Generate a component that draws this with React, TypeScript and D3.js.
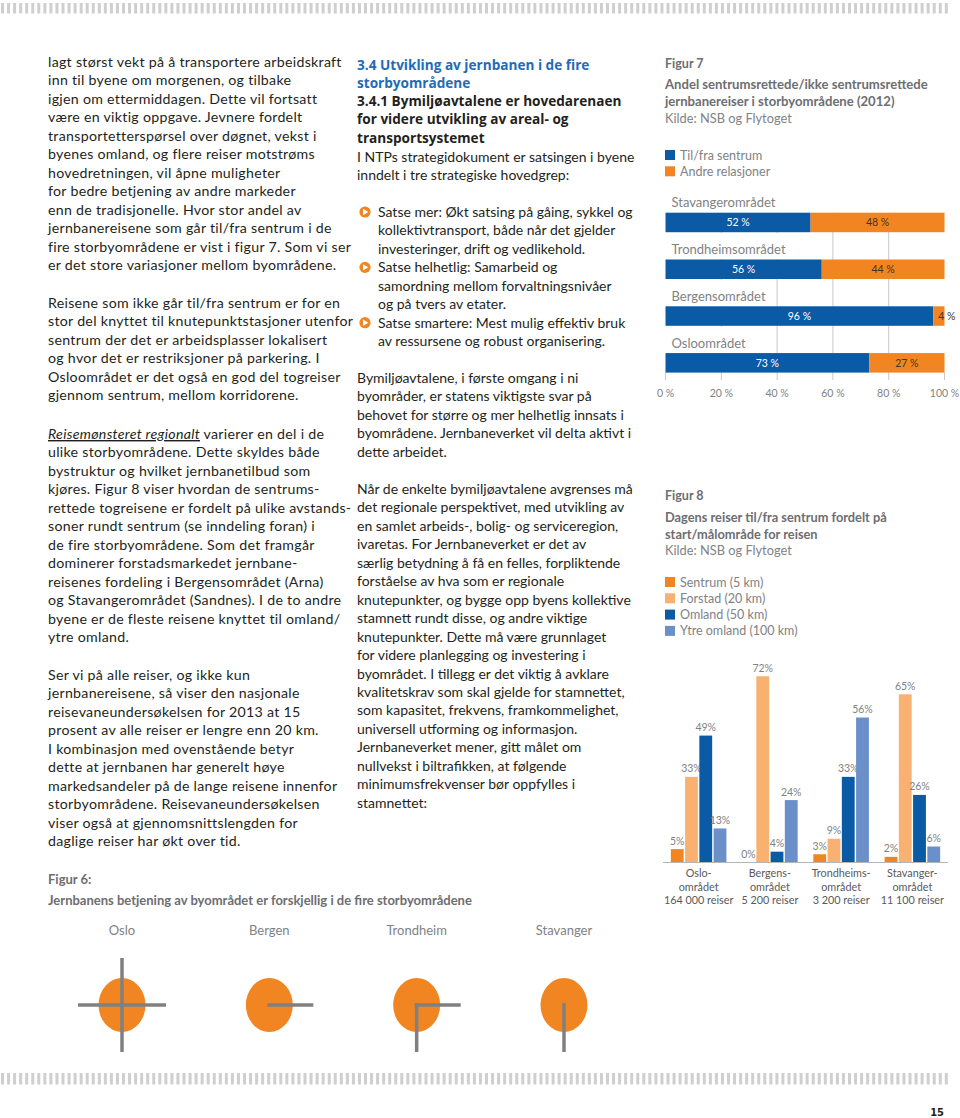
import React from "react";
import * as d3 from "d3";

// ---------- DATA ----------
const para1 = [
  "lagt størst vekt på å transportere arbeidskraft",
  "inn til byene om morgenen, og tilbake",
  "igjen om ettermiddagen. Dette vil fortsatt",
  "være en viktig oppgave. Jevnere fordelt",
  "transportetterspørsel over døgnet, vekst i",
  "byenes omland, og flere reiser motstrøms",
  "hovedretningen, vil åpne muligheter",
  "for bedre betjening av andre markeder",
  "enn de tradisjonelle. Hvor stor andel av",
  "jernbanereisene som går til/fra sentrum i de",
  "fire storbyområdene er vist i figur 7. Som vi ser",
  "er det store variasjoner mellom byområdene.",
];
const para2 = [
  "Reisene som ikke går til/fra sentrum er for en",
  "stor del knyttet til knutepunktstasjoner utenfor",
  "sentrum der det er arbeidsplasser lokalisert",
  "og hvor det er restriksjoner på parkering. I",
  "Osloområdet er det også en god del togreiser",
  "gjennom sentrum, mellom korridorene.",
];
const para3Lead = "Reisemønsteret regionalt";
const para3 = [
  " varierer en del i de",
  "ulike storbyområdene. Dette skyldes både",
  "bystruktur og hvilket jernbanetilbud som",
  "kjøres. Figur 8 viser hvordan de sentrums-",
  "rettede togreisene er fordelt på ulike avstands-",
  "soner rundt sentrum (se inndeling foran) i",
  "de fire storbyområdene. Som det framgår",
  "dominerer forstadsmarkedet jernbane-",
  "reisenes fordeling i Bergensområdet (Arna)",
  "og Stavangerområdet (Sandnes). I de to andre",
  "byene er de fleste reisene knyttet til omland/",
  "ytre omland.",
];
const para4 = [
  "Ser vi på alle reiser, og ikke kun",
  "jernbanereisene, så viser den nasjonale",
  "reisevaneundersøkelsen for 2013 at 15",
  "prosent av alle reiser er lengre enn 20 km.",
  "I kombinasjon med ovenstående betyr",
  "dette at jernbanen har generelt høye",
  "markedsandeler på de lange reisene innenfor",
  "storbyområdene. Reisevaneundersøkelsen",
  "viser også at gjennomsnittslengden for",
  "daglige reiser har økt over tid.",
];

const headBlue = ["3.4 Utvikling av jernbanen i de fire", "storbyområdene"];
const headDark = [
  "3.4.1 Bymiljøavtalene er hovedarenaen",
  "for videre utvikling av areal- og",
  "transportsystemet",
];
const introLines = [
  "I NTPs strategidokument er satsingen i byene",
  "inndelt i tre strategiske hovedgrep:",
];
const bulletLines = [
  "Satse mer: Økt satsing på gåing, sykkel og",
  "kollektivtransport, både når det gjelder",
  "investeringer, drift og vedlikehold.",
  "Satse helhetlig: Samarbeid og",
  "samordning mellom forvaltningsnivåer",
  "og på tvers av etater.",
  "Satse smartere: Mest mulig effektiv bruk",
  "av ressursene og robust organisering.",
];
const bulletStarts = [0, 3, 6];
const midPara1 = [
  "Bymiljøavtalene, i første omgang i ni",
  "byområder, er statens viktigste svar på",
  "behovet for større og mer helhetlig innsats i",
  "byområdene. Jernbaneverket vil delta aktivt i",
  "dette arbeidet.",
];
const midPara2 = [
  "Når de enkelte bymiljøavtalene avgrenses må",
  "det regionale perspektivet, med utvikling av",
  "en samlet arbeids-, bolig- og serviceregion,",
  "ivaretas. For Jernbaneverket er det av",
  "særlig betydning å få en felles, forpliktende",
  "forståelse av hva som er regionale",
  "knutepunkter, og bygge opp byens kollektive",
  "stamnett rundt disse, og andre viktige",
  "knutepunkter. Dette må være grunnlaget",
  "for videre planlegging og investering i",
  "byområdet. I tillegg er det viktig å avklare",
  "kvalitetskrav som skal gjelde for stamnettet,",
  "som kapasitet, frekvens, framkommelighet,",
  "universell utforming og informasjon.",
  "Jernbaneverket mener, gitt målet om",
  "nullvekst i biltrafikken, at følgende",
  "minimumsfrekvenser bør oppfylles i",
  "stamnettet:",
];

// Figure 7
const fig7Title = ["Andel sentrumsrettede/ikke sentrumsrettede", "jernbanereiser i storbyområdene (2012)"];
const fig7Legend = ["Til/fra sentrum", "Andre relasjoner"];
const fig7Areas = ["Stavangerområdet", "Trondheimsområdet", "Bergensområdet", "Osloområdet"];
const fig7Centre = [52, 56, 96, 73];
const fig7Other = [48, 44, 4, 27];
const fig7Ticks = [0, 20, 40, 60, 80, 100];

// Figure 8
const fig8Title = ["Dagens reiser til/fra sentrum fordelt på", "start/målområde for reisen"];
const fig8Series = ["Sentrum (5 km)", "Forstad (20 km)", "Omland (50 km)", "Ytre omland (100 km)"];
const fig8Groups = ["Oslo", "Bergen", "Trondheim", "Stavanger"];
const fig8GroupLabels = [
  ["Oslo-", "området", "164 000 reiser"],
  ["Bergens-", "området", "5 200 reiser"],
  ["Trondheims-", "området", "3 200 reiser"],
  ["Stavanger-", "området", "11 100 reiser"],
];
const fig8Sentrum = [5, 0, 3, 2];
const fig8Forstad = [33, 72, 9, 65];
const fig8Omland = [49, 4, 33, 26];
const fig8Ytre = [13, 24, 56, 6];

// Figure 6
const fig6Cities = ["Oslo", "Bergen", "Trondheim", "Stavanger"];
const fig6Arms = [["n", "e", "s", "w"], ["e"], ["e", "s"], ["s"]];

// ---------- STYLE ----------
const FONT = "Lato, 'Open Sans', sans-serif";
const HFONT = "'Open Sans', Lato, sans-serif";
const TXT = "#231f20";
const GRAY = "#6d6e71";
const LGRAY = "#808285";
const BLUE = "#0b5aa6";
const ORANGE = "#f18522";
const LORANGE = "#f8b170";
const LBLUE = "#6b8fc9";
const HBLUE = "#1f6bb6";
const LH = 18.45;

const Lines = ({ lines, x, y0, size = 14, fill = TXT, weight = 400, family = FONT, step = LH, ls = 0 }: any) => (
  <g>
    {lines.map((l: string, i: number) => (
      <text
        key={i}
        x={x}
        y={y0 + i * step}
        fontSize={size}
        fill={fill}
        fontWeight={weight}
        fontFamily={family}
        letterSpacing={ls}
      >
        {l}
      </text>
    ))}
  </g>
);

const Stripe = ({ y, h }: { y: number; h: number }) => {
  const xs = d3.range(1, 950, 6.05);
  return (
    <g>
      {xs.map((x, i) => (
        <rect key={i} x={x} y={y} width={3} height={h} fill="#cfcfcf" />
      ))}
    </g>
  );
};

function Figure7() {
  const x = d3.scaleLinear().domain([0, 100]).range([665.5, 944.5]);
  const y = d3.scaleBand<string>().domain(fig7Areas).range([212.7, 372.6]).paddingInner(0.583).paddingOuter(0);
  const bw = y.bandwidth();
  const top0 = y(fig7Areas[0])!;
  return (
    <g fontFamily={FONT}>
      <text x={665} y={68} fontSize={12.5} fontWeight={700} fill={GRAY}>Figur 7</text>
      <Lines lines={fig7Title} x={665} y0={89} size={13.1} weight={700} fill={GRAY} step={17} />
      <text x={665} y={123} fontSize={12.8} fill={LGRAY}>Kilde: NSB og Flytoget</text>
      {fig7Legend.map((l, i) => (
        <g key={l}>
          <rect x={665} y={150 + i * 16.3} width={10} height={10} fill={i === 0 ? BLUE : ORANGE} />
          <text x={680} y={159.5 + i * 16.3} fontSize={12.5} fill={LGRAY}>{l}</text>
        </g>
      ))}
      {fig7Ticks.map((t) => (
        <line key={t} x1={x(t)} x2={x(t)} y1={t === 0 || t === 100 ? 372.6 : top0} y2={380} stroke="#c8c8c8" strokeWidth={1} />
      ))}
      {fig7Areas.map((a, i) => {
        const yt = y(a)!;
        const c = fig7Centre[i];
        const o = fig7Other[i];
        const wBg = a.length * 6.6 + 10;
        const narrow = x(100) - x(c) < 20;
        return (
          <g key={a}>
            {i > 0 && <rect x={664} y={yt - (y.step() - bw) + 1} width={wBg} height={y.step() - bw - 1} fill="#fff" />}
            <text x={671.5} y={yt - 5.5} fontSize={13} fill={LGRAY}>{a}</text>
            <rect x={x(0)} y={yt} width={x(c) - x(0)} height={bw} fill={BLUE} />
            <rect x={x(c)} y={yt} width={x(100) - x(c)} height={bw} fill={ORANGE} />
            <text x={(x(0) + x(c)) / 2} y={yt + bw / 2 + 3.8} fontSize={10.5} fill="#fff" textAnchor="middle">{c} %</text>
            <text
              x={narrow ? x(c) + 5 : (x(c) + x(100)) / 2}
              y={yt + bw / 2 + 3.8}
              fontSize={10.5}
              fill="#4a3220"
              textAnchor={narrow ? "start" : "middle"}
            >
              {o} %
            </text>
          </g>
        );
      })}
      {fig7Ticks.map((t) => (
        <text key={"l" + t} x={x(t)} y={397} fontSize={10.5} fill={LGRAY} textAnchor="middle">{t} %</text>
      ))}
    </g>
  );
}

function Figure8() {
  const x0 = d3.scaleBand<string>().domain(fig8Groups).range([663, 948]).paddingInner(0.22).paddingOuter(0.11);
  const x1 = d3.scaleBand<string>().domain(fig8Series).range([0, x0.bandwidth()]).paddingInner(0.1);
  const y = d3.scaleLinear().domain([0, 100]).range([862, 862 - 258]);
  const values = [fig8Sentrum, fig8Forstad, fig8Omland, fig8Ytre];
  const colors = [ORANGE, LORANGE, BLUE, LBLUE];
  return (
    <g fontFamily={FONT}>
      <text x={665} y={500} fontSize={12.5} fontWeight={700} fill={GRAY}>Figur 8</text>
      <Lines lines={fig8Title} x={665} y0={522} size={12.8} weight={700} fill={GRAY} step={16.5} />
      <text x={665} y={555} fontSize={12.8} fill={LGRAY}>Kilde: NSB og Flytoget</text>
      {fig8Series.map((s, i) => (
        <g key={s}>
          <rect x={665} y={577 + i * 16.3} width={10} height={10} fill={colors[i]} />
          <text x={680} y={586.5 + i * 16.3} fontSize={12.5} fill={LGRAY}>{s}</text>
        </g>
      ))}
      <line x1={663} x2={948} y1={y(0) + 0.5} y2={y(0) + 0.5} stroke="#b5b5b5" strokeWidth={1} />
      {fig8Groups.map((g, gi) => (
        <g key={g} transform={`translate(${x0(g)},0)`}>
          {fig8Series.map((s, si) => {
            const v = values[si][gi];
            const bx = x1(s)!;
            return (
              <g key={s}>
                <rect x={bx} y={y(v)} width={x1.bandwidth()} height={y(0) - y(v)} fill={colors[si]} />
                <text x={bx + x1.bandwidth() / 2} y={y(v) - 4.5} fontSize={10.5} fill={LGRAY} textAnchor="middle">
                  {v}%
                </text>
              </g>
            );
          })}
          {fig8GroupLabels[gi].map((l, li) => (
            <text key={li} x={x0.bandwidth() / 2} y={877 + li * 13.5} fontSize={10.8} fill="#58595b" textAnchor="middle">
              {l}
            </text>
          ))}
        </g>
      ))}
    </g>
  );
}

function Figure6() {
  const x = d3.scalePoint<string>().domain(fig6Cities).range([122, 564]);
  const cy = 1005;
  const arm = 44;
  const vec: any = { n: [0, -1], s: [0, 1], e: [1, 0], w: [-1, 0] };
  return (
    <g fontFamily={FONT}>
      <text x={48} y={884} fontSize={13} fontWeight={700} fill={GRAY}>Figur 6:</text>
      <text x={48} y={905} fontSize={13} fontWeight={700} fill={GRAY}>
        Jernbanens betjening av byområdet er forskjellig i de fire storbyområdene
      </text>
      {fig6Cities.map((c, i) => {
        const cx = x(c)!;
        return (
          <g key={c}>
            <text x={cx} y={935} fontSize={13} fill={LGRAY} textAnchor="middle">{c}</text>
            <ellipse cx={cx} cy={cy} rx={23.5} ry={27} fill={ORANGE} />
            {fig6Arms[i].map((a) => (
              <line
                key={a}
                x1={cx - vec[a][0] * 2}
                y1={cy - vec[a][1] * 2}
                x2={cx + vec[a][0] * arm}
                y2={cy + vec[a][1] * 47}
                stroke="#808080"
                strokeWidth={3.5}
              />
            ))}
          </g>
        );
      })}
    </g>
  );
}

const Bullet = ({ x, y }: { x: number; y: number }) => (
  <g>
    <circle cx={x} cy={y} r={5.6} fill={ORANGE} />
    <path d={`M${x - 2},${y - 3.2} L${x + 3.3},${y} L${x - 2},${y + 3.2} Z`} fill="#fff" />
  </g>
);

const LS = 0.28; // left column letter spacing
const LSZ = 14.2;

export default function App() {
  return (
    <svg
      width={960}
      height={1118}
      viewBox="0 0 960 1118"
      style={{ position: "absolute", left: 0, top: 0, display: "block", background: "#fff" }}
    >
      <rect width={960} height={1118} fill="#fff" />
      <Stripe y={3} h={10.5} />
      <Stripe y={1073} h={11.5} />

      {/* Left column */}
      <Lines lines={para1} x={48} y0={67} size={LSZ} ls={LS} />
      <Lines lines={para2} x={48} y0={308} size={LSZ} ls={LS} />
      <text x={48} y={439} fontSize={LSZ} fill={TXT} fontFamily={FONT} letterSpacing={LS}>
        <tspan fontStyle="italic" textDecoration="underline">{para3Lead}</tspan>
        {para3[0]}
      </text>
      <Lines lines={para3.slice(1)} x={48} y0={439 + LH} size={LSZ} ls={LS} />
      <Lines lines={para4} x={48} y0={680} size={LSZ} ls={LS} />

      {/* Middle column */}
      <Lines lines={headBlue} x={357} y0={70} size={13.6} weight={700} fill={HBLUE} family={HFONT} step={18.3} />
      <Lines lines={headDark} x={357} y0={106} size={13.6} weight={700} fill={TXT} family={HFONT} step={18.3} />
      <Lines lines={introLines} x={357} y0={162} />
      {bulletStarts.map((b) => (
        <Bullet key={b} x={365} y={212 + b * LH} />
      ))}
      <Lines lines={bulletLines} x={378} y0={217} />
      <Lines lines={midPara1} x={357} y0={383} />
      <Lines lines={midPara2} x={357} y0={494} />

      <Figure7 />
      <Figure8 />
      <Figure6 />

      <text x={944} y={1116} fontSize={11} fontWeight={700} fill={TXT} textAnchor="end" fontFamily="'Liberation Sans Narrow', 'DejaVu Sans Condensed', sans-serif">
        15
      </text>
    </svg>
  );
}
